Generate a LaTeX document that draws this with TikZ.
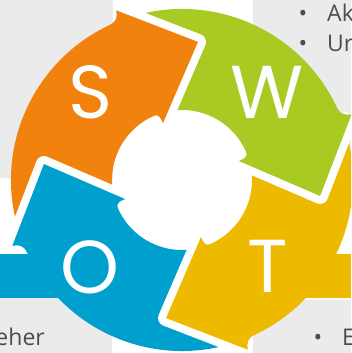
\documentclass[tikz,border=0pt]{standalone}
\usepackage{fontspec}
\setmainfont{Open Sans}
\newfontfamily\letterfont{Poppins}

\definecolor{swotS}{HTML}{F1820D}
\definecolor{swotW}{HTML}{A8CA22}
\definecolor{swotT}{HTML}{EDBA00}
\definecolor{swotO}{HTML}{00A0CE}
\definecolor{panel}{HTML}{EBEBEB}
\definecolor{bodytext}{HTML}{4D4D4D}

% one quarter of the ring, body only (rotated copy of the top-left quarter)
\newcommand{\swotbody}[2]{%
  \begin{scope}[rotate=#1]
    \fill[#2] (108:171) arc[start angle=108,end angle=198,radius=171]
      -- (198:70) arc[start angle=198,end angle=108,radius=70] -- cycle;
  \end{scope}}

% arrow head of a quarter, cut out of the next quarter by a white margin
\newcommand{\swothead}[2]{%
  \begin{scope}[rotate=#1]
    \fill[white] (111.2:182) -- (83.4:139) -- (108.5:60) -- cycle;
    \draw[white,line width=16pt,line join=round]
      (111.2:182) -- (83.4:139) -- (108.5:60);
    \fill[#2] (115:171) .. controls (112.5:171.5) and (111.6:175) .. (111.2:182)
      -- (83.4:139) -- (108.5:60)
      .. controls (108.6:66) and (110:70) .. (113:70) -- cycle;
  \end{scope}}

\tikzset{
  swotletter/.style={text=white,inner sep=0pt,font=\letterfont\fontsize{75}{80}\selectfont},
  listtext/.style={text=bodytext,inner sep=0pt,font=\fontsize{23}{27}\selectfont},
}

\begin{document}
\begin{tikzpicture}[x=1pt,y=1pt]
  \useasboundingbox (0,0) rectangle (351,353);
  \clip (0,0) rectangle (351,353);

  % background panels
  \fill[panel] (0,175) rectangle (113,353);
  \fill[panel] (253,176) rectangle (351,353);
  \fill[panel] (0,0) rectangle (112,55);
  \fill[panel] (253,0) rectangle (351,53);

  % list text in the panels
  \node[listtext,anchor=base] (b1) at (303,331) {•};
  \node[listtext,anchor=base west] (t1) at (327,331) {Ak};
  \node[listtext,anchor=base] (b2) at (303,301) {•};
  \node[listtext,anchor=base west] (t2) at (327,301) {Ur};
  \node[listtext,anchor=base east] (t3) at (45,7) {eher};
  \node[listtext,anchor=base] (b4) at (318,7) {•};
  \node[listtext,anchor=base west] (t4) at (342,7) {E};

  % the four arrows of the cycle
  \begin{scope}[shift={(182,173)}]
    \swotbody{0}{swotS}
    \swotbody{-90}{swotW}
    \swotbody{-180}{swotT}
    \swotbody{90}{swotO}
  \end{scope}
  % side bands running out to the edges
  \fill[swotO] (0,55) rectangle (60,99);
  \fill[swotT] (290,55) rectangle (351,99);
  \begin{scope}[shift={(182,173)}]
    \swothead{0}{swotS}
    \swothead{-90}{swotW}
    \swothead{-180}{swotT}
    \swothead{90}{swotO}
  \end{scope}

  \node[swotletter] (S) at (91,261) {S};
  \node[swotletter] (W) at (267,261) {W};
  \node[swotletter] (T) at (268,87) {T};
  \node[swotletter] (O) at (90,86) {O};
\end{tikzpicture}
\end{document}
